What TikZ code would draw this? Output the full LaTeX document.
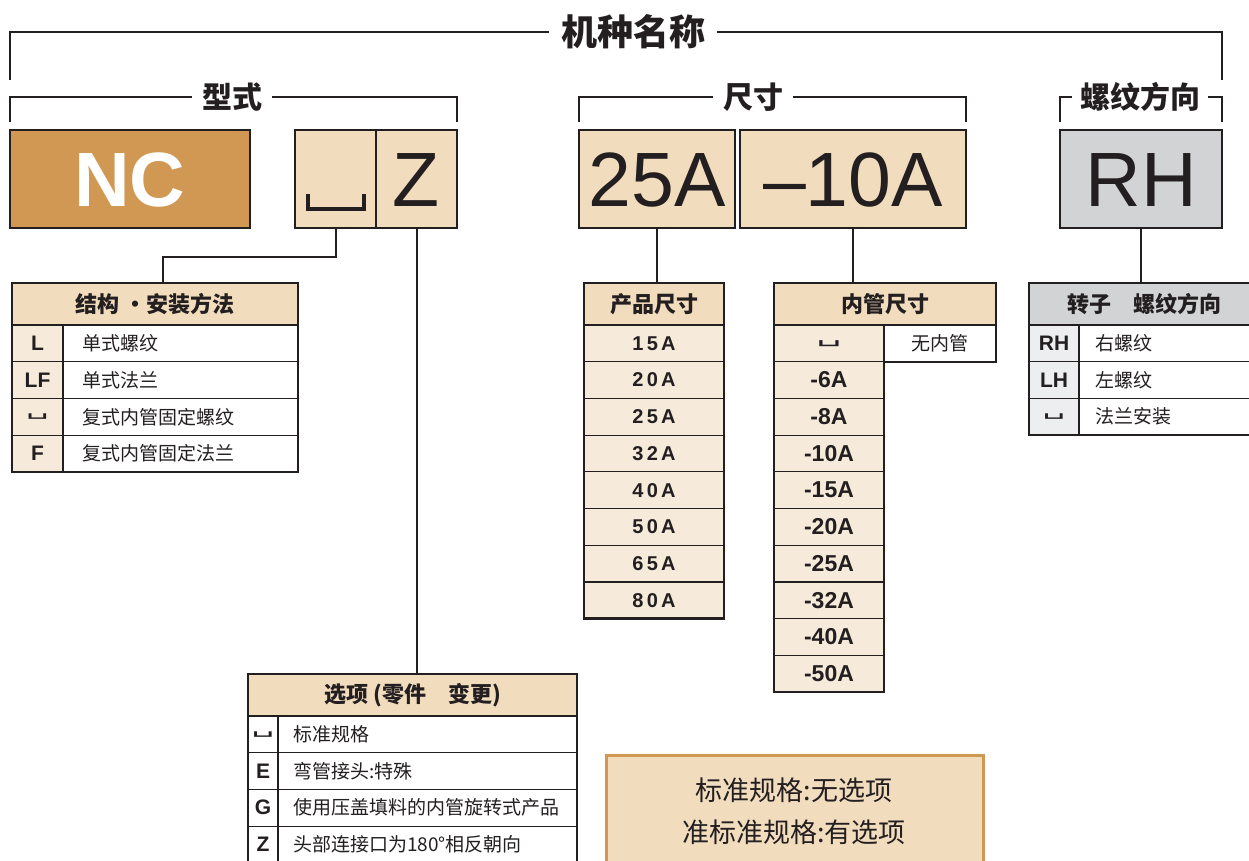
\documentclass[tikz,border=0pt]{standalone}
\usepackage{fontspec}
\usepackage{graphicx}
\usepackage{tikz}
\setmainfont{Liberation Sans}
\newfontfamily\cjk{Noto Sans CJK SC}
\newfontfamily\dejavu{DejaVu Sans}
\definecolor{ink}{HTML}{231F20}
\definecolor{ncorange}{HTML}{D09852}
\definecolor{tan}{HTML}{F2DCBE}
\definecolor{cream}{HTML}{F6EBDA}
\definecolor{gry}{HTML}{D1D3D4}
\definecolor{lgry}{HTML}{EDEEEF}
\newcommand\blank{{\dejavu\mdseries\scalebox{1.7}[0.8]{␣}}}

\begin{document}
\begin{tikzpicture}[
		x=1pt, y=-1pt,
		every node/.style={inner sep=0pt, outer sep=0pt, text=ink},
		title/.style={font=\cjk\bfseries\fontsize{30}{34}\selectfont, inner xsep=10pt},
		bigbox/.style={draw=ink, line width=2pt, anchor=north west, minimum height=98pt, text height=55pt, text depth=0pt, font=\fontsize{77}{80}\selectfont},
		cell/.style={draw=ink, line width=1.2pt, anchor=north west, minimum height=36.7pt},
		head/.style={cell, minimum height=42pt, fill=tan, font=\cjk\bfseries\fontsize{22}{26}\selectfont},
		code/.style={cell, font=\bfseries\fontsize{21}{24}\selectfont},
		item/.style={cell, fill=white, align=left, inner xsep=19pt, font=\cjk\fontsize{19}{22}\selectfont},
		size/.style={cell, fill=cream, font=\bfseries\fontsize{23}{26}\selectfont},
		frame/.style={draw=ink, line width=2.4pt},
		link/.style={draw=ink, line width=2pt},
		bracket/.style={draw=ink, line width=1.8pt},
		blankmark/.style={draw=ink, line width=4pt}
	]
  \useasboundingbox (0,0) rectangle (1249,860);

  \node (jz) [title, font=\cjk\bfseries\fontsize{36}{40}\selectfont, inner xsep=12pt] at (633,32) {机种名称};
  \node (xs) [title] at (232,97) {型式};
  \node (cc) [title] at (753,97) {尺寸};
  \node (lw) [title, inner xsep=8pt] at (1140,97) {螺纹方向};
  \coordinate (jzl) at (10,80);
  \coordinate (jzr) at (1222,80);
  \coordinate (xsl) at (10,122);
  \coordinate (xsr) at (457,122);
  \coordinate (ccl) at (579,122);
  \coordinate (ccr) at (966,122);
  \coordinate (lwl) at (1060,122);
  \coordinate (lwr) at (1222,122);
  \draw[bracket] (jz.west) -| (jzl);
  \draw[bracket] (jz.east) -| (jzr);
  \draw[bracket] (xs.west) -| (xsl);
  \draw[bracket] (xs.east) -| (xsr);
  \draw[bracket] (cc.west) -| (ccl);
  \draw[bracket] (cc.east) -| (ccr);
  \draw[bracket] (lw.west) -| (lwl);
  \draw[bracket] (lw.east) -| (lwr);

  \node (nc) [bigbox, fill=ncorange, minimum width=240pt, text=white, font=\bfseries\fontsize{77}{80}\selectfont] at (10,130) {NC};
  \node (tA) [bigbox, fill=tan, minimum width=81pt] at (295,130) {};
  \node (tZ) [bigbox, fill=tan, minimum width=81pt] at (376,130) {Z};
  \node (sA) [bigbox, fill=tan, minimum width=156pt] at (579,130) {25A};
  \node (sB) [bigbox, fill=tan, minimum width=226pt] at (740,130) {–10A};
  \node (rh) [bigbox, fill=gry, minimum width=162pt] at (1060,130) {RH};
  \draw[blankmark] (tA.center) ++(-28,15) -- ++(0,15) -- ++(56,0) -- ++(0,-15);

  \node (jg) [head, minimum width=286pt] at (12,283) {结构 ・安装方法};
  \foreach \c/\t [count=\i] in {L/单式螺纹, LF/单式法兰, \blank/复式内管固定螺纹, F/复式内管固定法兰} {
    \node (jgc\i) [code, fill=cream, minimum width=51pt] at (12, 288.3+36.7*\i) {\c};
    \node (jgt\i) [item, text width=197pt] at (63, 288.3+36.7*\i) {\t};
  }
  \draw[frame] (jg.north west) rectangle (jgt4.south east);
  \draw[frame] (jg.south west) -- (jg.south east);

  \node (cp) [head, minimum width=140pt] at (584,283) {产品尺寸};
  \foreach \s [count=\i] in {15A,20A,25A,32A,40A,50A,65A,80A} {
    \node (cp\i) [size, minimum width=140pt, font=\bfseries\fontsize{20}{24}\selectfont\addfontfeatures{LetterSpace=16}] at (584, 288.3+36.7*\i) {\s};
  }
  \draw[frame] (cp.north west) rectangle (cp8.south east);
  \draw[frame] (cp.south west) -- (cp.south east);

  \node (ng) [head, minimum width=222pt] at (774,283) {内管尺寸};
  \node (ngc1) [size, minimum width=110pt] at (774,325) {\blank};
  \node (ngt1) [cell, fill=white, minimum width=112pt, font=\cjk\fontsize{19}{22}\selectfont] at (884,325) {无内管};
  \foreach \s [count=\i from 2] in {-6A,-8A,-10A,-15A,-20A,-25A,-32A,-40A,-50A} {
    \node (ngc\i) [size, minimum width=110pt] at (774, 288.3+36.7*\i) {\s};
  }
  \draw[frame] (ng.north west) -- (ng.north east) -- (ngt1.south east) -- (ngt1.south west) -- (ngc10.south east) -- (ngc10.south west) -- cycle;
  \draw[frame] (ng.south west) -- (ng.south east);

  \node (zz) [head, fill=gry, minimum width=231pt] at (1029,283) {转子　螺纹方向};
  \foreach \c/\t [count=\i] in {RH/右螺纹, LH/左螺纹, \blank/法兰安装} {
    \node (zzc\i) [code, fill=lgry, minimum width=50pt] at (1029, 288.3+36.7*\i) {\c};
    \node (zzt\i) [item, inner xsep=16pt, text width=149pt] at (1079, 288.3+36.7*\i) {\t};
  }
  \draw[frame] (zz.north east) -- (zz.north west) -- (zzc3.south west) -- (zzt3.south east);
  \draw[frame] (zz.south west) -- (zz.south east);

  \node (xx) [head, minimum width=329pt] at (248,674) {选项 (零件　变更)};
  \foreach \c/\t [count=\i] in {\blank/标准规格, E/弯管接头:特殊, G/使用压盖填料的内管旋转式产品, Z/头部连接口为180°相反朝向} {
    \node (xxc\i) [code, fill=white, minimum width=30pt] at (248, 679.3+36.7*\i) {\c};
    \node (xxt\i) [item, inner xsep=15pt, text width=269pt] at (278, 679.3+36.7*\i) {\t};
  }
  \draw[frame] (xx.north west) rectangle (xxt4.south east);
  \draw[frame] (xx.south west) -- (xx.south east);

  \node (bz) [draw=ncorange, line width=3pt, fill=tan, anchor=north west, minimum width=377pt, minimum height=130pt] at (606,755) {};
  \node (bzt) [align=center, font=\cjk\fontsize{27}{42}\selectfont] at (794,811) {标准规格:无选项\\准标准规格:有选项};

  \coordinate (jgin) at (163,283);
  \draw[link] (tA.south) -- ++(0,29) -| (jgin);
  \draw[link] (tZ.south) -- (tZ.south |- xx.north);
  \draw[link] (sA.south) -- (sA.south |- cp.north);
  \draw[link] (sB.south) -- (sB.south |- ng.north);
  \draw[link] (rh.south) -- (rh.south |- zz.north);
\end{tikzpicture}
\end{document}
